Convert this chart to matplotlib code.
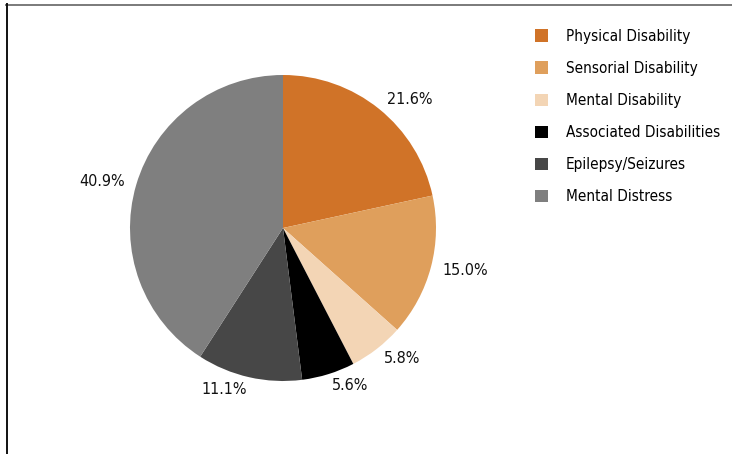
import matplotlib
matplotlib.use("Agg")
import matplotlib.pyplot as plt
from matplotlib.lines import Line2D
from matplotlib.patches import Patch

categories = ['Physical Disability', 'Sensorial Disability', 'Mental Disability',
              'Associated Disabilities', 'Epilepsy/Seizures', 'Mental Distress']
shares = [21.6, 15.0, 5.8, 5.6, 11.1, 40.9]
colors = ['#D07328', '#DF9F5C', '#F3D5B5', '#000000', '#474747', '#7F7F7F']

plt.rcParams['font.family'] = ['DejaVu Sans']
plt.rcParams['font.stretch'] = 'condensed'

W, H = 732, 454
fig = plt.figure(figsize=(W / 100, H / 100), dpi=100)

# pie centre and radius in pixels
cx, cy, r = 283, 228, 153
ax = fig.add_axes([(cx - r) / W, (H - cy - r) / H, 2 * r / W, 2 * r / H])
wedges, texts = ax.pie(shares, colors=colors, startangle=90, counterclock=False,
                       labels=[f'{v:.1f}%' for v in shares], labeldistance=1.08,
                       textprops={'fontsize': 11.5, 'color': '#111111'},
                       wedgeprops={'linewidth': 0})
ax.set_xlim(-1, 1)
ax.set_ylim(-1, 1)
ax.set_aspect('equal')

handles = [Patch(facecolor=c, edgecolor='none') for c in colors]
fig.legend(handles, categories, loc='upper left', bbox_to_anchor=(521 / W, 1 - 15 / H),
           frameon=False, fontsize=11, handlelength=0.85, handleheight=0.85,
           handletextpad=1.2, labelspacing=1.12)

# frame: grey line on top, dark line on the left
fig.add_artist(Line2D([6 / W, 1], [1 - 4.5 / H, 1 - 4.5 / H], color='#7a7a7a', lw=1.4))
fig.add_artist(Line2D([6.5 / W, 6.5 / W], [0, 1 - 4 / H], color='#111111', lw=1.4))

fig.savefig('out.png', dpi=100)
